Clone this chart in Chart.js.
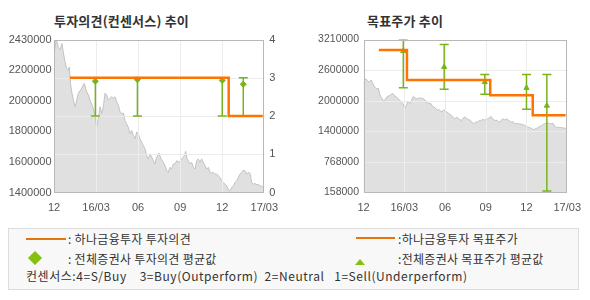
<!DOCTYPE html>
<html>
<head>
<meta charset="utf-8">
<script src="https://cdn.jsdelivr.net/npm/chart.js@4/dist/chart.umd.min.js"></script>
<style>
  html, body { margin:0; padding:0; background:#fff; }
  body { width:590px; height:300px; position:relative; overflow:hidden; font-family:"Noto Sans CJK KR", sans-serif; }
  canvas { position:absolute; top:0; }
  .title { position:absolute; top:12px; font-size:13px; font-weight:bold; color:#333; line-height:18px; white-space:pre; letter-spacing:0.2px; }
  .lg { position:absolute; font-size:12px; color:#333; line-height:16px; white-space:pre; letter-spacing:0.3px; }
  #box { position:absolute; left:8px; top:228px; width:569px; height:60px; border:1px solid #dcdcdc; background:#f8f8f8; }
  .oline { position:absolute; height:2px; background:#e8730c; }
  #dia { position:absolute; left:30px; top:253px; width:10px; height:10px; background:#84c10f; transform:rotate(45deg); }
  #tri { position:absolute; left:355px; top:259px; width:0; height:0; border-left:5.5px solid transparent; border-right:5.5px solid transparent; border-bottom:6px solid #84c10f; }
</style>
</head>
<body>
<div class="title" style="left:54px">투자의견(컨센서스) 추이</div>
<div class="title" style="left:367px">목표주가 추이</div>
<canvas id="c1" width="295" height="220" style="left:0"></canvas>
<canvas id="c2" width="295" height="220" style="left:295px"></canvas>
<div id="box"></div>
<div class="oline" style="left:26px; top:238px; width:40px"></div>
<div class="lg" style="left:68px; top:231px">: 하나금융투자 투자의견</div>
<div id="dia"></div>
<div class="lg" style="left:68px; top:251px">: 전체증권사 투자의견 평균값</div>
<div class="lg" style="left:26px; top:268px; letter-spacing:0.55px">컨센서스:4=S/Buy    3=Buy(Outperform)  2=Neutral   1=Sell(Underperform)</div>
<div class="oline" style="left:356px; top:237px; width:39px"></div>
<div class="lg" style="left:398px; top:231px">:하나금융투자 목표주가</div>
<div id="tri"></div>
<div class="lg" style="left:398px; top:251px">:전체증권사 목표주가 평균값</div>
<script>
// ---- x axis (months since 2015/12) ----
const xTickMonths = [0, 3, 6, 9, 12, 15];
const xTickLabels = ['12', '16/03', '06', '09', '12', '17/03'];

// ---- stock price ----
const priceMonths = [0.00,0.14,0.24,0.31,0.43,0.57,0.67,0.78,0.90,1.02,
  1.09,1.19,1.28,1.43,1.52,1.62,1.74,1.90,2.09,2.16,
  2.28,2.45,2.57,2.76,2.92,3.04,3.16,3.28,3.40,3.52,
  3.64,3.76,3.87,3.99,4.11,4.23,4.35,4.47,4.59,4.71,
  4.83,4.95,5.06,5.18,5.30,5.42,5.54,5.66,5.78,5.90,
  6.02,6.13,6.25,6.37,6.49,6.61,6.73,6.85,6.97,7.08,
  7.20,7.32,7.49,7.63,7.80,7.92,8.04,8.15,8.27,8.39,
  8.51,8.63,8.75,8.92,9.11,9.30,9.39,9.49,9.58,9.70,
  9.82,9.94,10.06,10.18,10.29,10.41,10.53,10.65,10.77,10.89,
  11.01,11.13,11.25,11.36,11.48,11.60,11.72,11.84,11.96,12.08,
  12.20,12.32,12.43,12.55,12.67,12.79,12.91,13.03,13.15,13.27,
  13.39,13.50,13.62,13.74,13.86,13.98,14.10,14.22,14.34,14.46,
  14.57,14.69,14.81,14.93,15.00];
const priceValues = [2328000,2423000,2410000,2374000,2362000,2403000,2340000,2283000,2233000,2225000,
  2245000,2124000,2070000,2002000,1977000,2022000,2070000,2090000,2124000,2135000,
  2090000,2056000,2022000,1977000,1920000,1840000,1898000,1977000,1932000,1977000,
  2068000,2056000,2022000,2034000,2045000,2034000,2045000,2011000,1988000,1943000,
  1932000,1935000,1886000,1863000,1840000,1796000,1818000,1784000,1762000,1807000,
  1796000,1762000,1739000,1716000,1694000,1648000,1626000,1660000,1637000,1614000,
  1592000,1637000,1666000,1626000,1603000,1580000,1546000,1535000,1569000,1558000,
  1592000,1592000,1614000,1603000,1626000,1648000,1677000,1626000,1614000,1592000,
  1603000,1569000,1558000,1614000,1626000,1603000,1626000,1603000,1580000,1558000,
  1569000,1535000,1532000,1535000,1524000,1524000,1512000,1501000,1478000,1467000,
  1456000,1444000,1422000,1410000,1433000,1444000,1467000,1478000,1501000,1524000,
  1535000,1550000,1546000,1524000,1535000,1530000,1467000,1456000,1462000,1450000,
  1456000,1444000,1444000,1433000,1440000];

// ---- left chart: opinion ----
const opinionPriceTicks = [1400000, 1606000, 1812000, 2018000, 2224000, 2430000];
const opinionPriceTickLabels = ['1400000', '1600000', '1800000', '2000000', '2200000', '2430000'];
const opinionScoreTicks = [0, 1, 2, 3, 4];
const opinionScoreTickLabels = ['0', '1', '2', '3', '4'];
const hanaOpinionMonths = [1.13, 12.46, 14.89];
const hanaOpinionValues = [3, 2, 2];
const consMonths = [2.95, 5.95, 12.0, 13.5];
const consAvg = [2.91, 2.95, 2.93, 2.83];
const consMax = [3, 3, 3, 3];
const consMin = [2, 2, 2, 2];

// ---- right chart: target price ----
const targetTicks = [158000, 768400, 1378800, 1989200, 2599600, 3210000];
const targetTickLabels = ['158000', '768000', '1400000', '2000000', '2600000', '3210000'];
const hanaTargetMonths = [1.13, 3.2, 9.33, 12.46, 14.88];
const hanaTargetValues = [3000000, 2400000, 2100000, 1700000, 1700000];
const tpMonths = [2.93, 5.94, 8.93, 12.0, 13.5];
const tpAvg = [2980000, 2660000, 2360000, 2245000, 1890000];
const tpMax = [3210000, 3110000, 2510000, 2510000, 2510000];
const tpMin = [2250000, 2220000, 2120000, 1820000, 190000];

const ORANGE = '#ff7400';
const GREEN = '#78b41a';
const LABEL = '#555';
const TICKFONT = { family: "'Liberation Sans', Arial, sans-serif", size: 11 };

const gridOverArea = {
  id: 'gridOverArea',
  afterDatasetDraw(chart, args, opts) {
    if (args.index !== 0) return;
    const ctx = chart.ctx, a = chart.chartArea;
    const h = chart.scales[opts.h], v = chart.scales[opts.v];
    ctx.save();
    ctx.strokeStyle = '#ececec';
    ctx.lineWidth = 1;
    ctx.beginPath();
    h.ticks.forEach(t => {
      const y = Math.round(h.getPixelForValue(t.value)) + 0.5;
      if (y > a.top + 2 && y < a.bottom - 2) { ctx.moveTo(a.left, y); ctx.lineTo(a.right, y); }
    });
    v.ticks.forEach(t => {
      const x = Math.round(v.getPixelForValue(t.value)) + 0.5;
      if (x > a.left + 2 && x < a.right - 2) { ctx.moveTo(x, a.top); ctx.lineTo(x, a.bottom); }
    });
    ctx.stroke();
    ctx.restore();
  }
};
const frame = {
  id: 'frame',
  afterDatasetsDraw(chart) {
    const ctx = chart.ctx, a = chart.chartArea;
    ctx.save();
    ctx.strokeStyle = '#b8b8b8';
    ctx.lineWidth = 1;
    const l = Math.round(a.left) + 0.5, t = Math.round(a.top) + 0.5;
    const r = Math.round(a.right) - 0.5, b = Math.round(a.bottom) - 0.5;
    ctx.strokeRect(l, t, r - l, b - t);
    ctx.restore();
  }
};

function pts(xs, ys) { return xs.map((x, i) => ({ x: x, y: ys[i] })); }
function barSegments(xs, lo, hi) {
  const out = [];
  xs.forEach((x, i) => { out.push({ x: x, y: lo[i] }, { x: x, y: hi[i] }, { x: x, y: null }); });
  return out;
}
function xAxis() {
  return {
    type: 'linear', min: 0, max: 15,
    afterBuildTicks: s => { s.ticks = xTickMonths.map(v => ({ value: v })); },
    ticks: { callback: (v, i) => xTickLabels[i], autoSkip: false, maxRotation: 0, padding: 9, color: LABEL, font: TICKFONT },
    grid: { display: false, drawTicks: false },
    border: { display: false },
    afterFit: s => { s.height = 27.5; }
  };
}
function priceSet(axis) {
  return { label: 'price', data: pts(priceMonths, priceValues), yAxisID: axis, borderColor: '#c2c2c2', borderWidth: 1,
    backgroundColor: '#e0e0e0', fill: 'start', pointRadius: 0, tension: 0, order: 10 };
}
function errorSets(axis, xs, lo, hi, avg, style) {
  return [
    { label: 'bars', data: barSegments(xs, lo, hi), yAxisID: axis, borderColor: GREEN, borderWidth: 1.5, pointRadius: 0, spanGaps: false, fill: false, order: 5 },
    { label: 'caps', data: pts(xs, lo).concat(pts(xs, hi)), yAxisID: axis, showLine: false, pointStyle: 'line', pointRadius: 4.5,
      pointBorderWidth: 1.5, pointBorderColor: GREEN, borderColor: GREEN, order: 4 },
    { label: 'avg', data: pts(xs, avg), yAxisID: axis, showLine: false, pointStyle: style, pointRadius: 3,
      pointBackgroundColor: GREEN, pointBorderColor: GREEN, pointBorderWidth: 1, order: 3 }
  ];
}

new Chart(document.getElementById('c1'), {
  type: 'line',
  data: { datasets: [
    priceSet('y'),
    ...errorSets('y2', consMonths, consMin, consMax, consAvg, 'rectRot'),
    { label: 'hana', data: pts(hanaOpinionMonths, hanaOpinionValues), yAxisID: 'y2', stepped: 'before', borderColor: ORANGE, borderWidth: 2.5, pointRadius: 0, fill: false, order: 1 }
  ] },
  options: {
    responsive: false, animation: false, devicePixelRatio: 1, events: [],
    layout: { padding: { top: 39.5, left: 0, right: 0, bottom: 0 } },
    plugins: { legend: { display: false }, tooltip: { enabled: false }, gridOverArea: { h: 'y2', v: 'x' } },
    scales: {
      x: xAxis(),
      y: {
        type: 'linear', position: 'left', min: 1400000, max: 2430000,
        afterBuildTicks: s => { s.ticks = opinionPriceTicks.map(v => ({ value: v })); },
        ticks: { callback: (v, i) => opinionPriceTickLabels[i], padding: 2.5, color: LABEL, font: TICKFONT },
        grid: { display: false, drawTicks: false }, border: { display: false },
        afterFit: s => { s.width = 54; }
      },
      y2: {
        type: 'linear', position: 'right', min: 0, max: 4,
        afterBuildTicks: s => { s.ticks = opinionScoreTicks.map(v => ({ value: v })); },
        ticks: { callback: (v, i) => opinionScoreTickLabels[i], padding: 5, color: LABEL, font: TICKFONT },
        grid: { display: false, drawTicks: false }, border: { display: false },
        afterFit: s => { s.width = 30.7; }
      }
    }
  },
  plugins: [gridOverArea, frame]
});

new Chart(document.getElementById('c2'), {
  type: 'line',
  data: { datasets: [
    priceSet('y'),
    ...errorSets('y', tpMonths, tpMin, tpMax, tpAvg, 'triangle'),
    { label: 'hana', data: pts(hanaTargetMonths, hanaTargetValues), yAxisID: 'y', stepped: 'before', borderColor: ORANGE, borderWidth: 2.5, pointRadius: 0, fill: false, order: 1 }
  ] },
  options: {
    responsive: false, animation: false, devicePixelRatio: 1, events: [],
    layout: { padding: { top: 39.5, left: 0, right: 16.7, bottom: 0 } },
    plugins: { legend: { display: false }, tooltip: { enabled: false }, gridOverArea: { h: 'y', v: 'x' } },
    scales: {
      x: xAxis(),
      y: {
        type: 'linear', position: 'left', min: 158000, max: 3210000,
        afterBuildTicks: s => { s.ticks = targetTicks.map(v => ({ value: v })); },
        ticks: { callback: (v, i) => targetTickLabels[i], padding: 4.5, color: LABEL, font: { family: TICKFONT.family, size: 10.5 } },
        grid: { display: false, drawTicks: false }, border: { display: false },
        afterFit: s => { s.width = 68.5; }
      }
    }
  },
  plugins: [gridOverArea, frame]
});
</script>
</body>
</html>
